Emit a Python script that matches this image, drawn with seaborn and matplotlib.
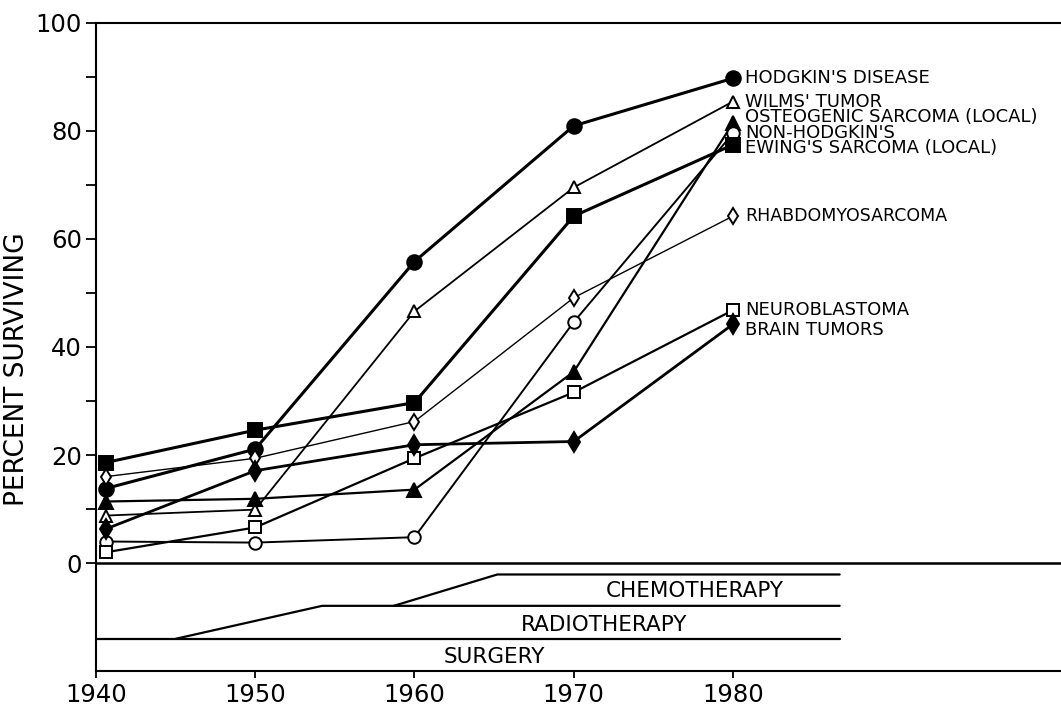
import matplotlib
matplotlib.use("Agg")
import matplotlib.pyplot as plt
import seaborn as sns

# survival curves (percent surviving)
years = [1940.6, 1950, 1960, 1970, 1980]

hodgkin = [13.8, 21.1, 55.8, 80.9, 89.7]
wilms = [8.8, 9.9, 46.6, 69.5, 85.4]
osteogenic = [11.4, 11.9, 13.6, 35.4, 81.4]
non_hodgkin = [4.0, 3.8, 4.8, 44.6, 79.5]
ewing = [18.6, 24.6, 29.7, 64.2, 77.4]
rhabdo = [16.0, 19.4, 26.2, 49.1, 64.2]
neuro = [2.0, 6.6, 19.4, 31.6, 46.8]
brain = [6.3, 17.1, 21.9, 22.5, 44.2]

names = ["HODGKIN'S DISEASE", "WILMS' TUMOR", "OSTEOGENIC SARCOMA (LOCAL)",
         "NON-HODGKIN'S", "EWING'S SARCOMA (LOCAL)", "RHABDOMYOSARCOMA",
         "NEUROBLASTOMA", "BRAIN TUMORS"]
label_y = [89.7, 85.5, 82.8, 79.5, 76.3, 64.2, 46.8, 43.2]

# therapy bands under the zero line
surg_x = [1940, 1986.7]
surg_y = [-14.0, -14.0]
radio_x = [1945.0, 1954.2, 1986.7]
radio_y = [-14.0, -7.9, -7.9]
chemo_x = [1958.7, 1965.2, 1986.7]
chemo_y = [-7.9, -2.1, -2.1]
therapy_names = ["CHEMOTHERAPY", "RADIOTHERAPY", "SURGERY"]
therapy_pos = [(1977.6, -5.2), (1971.9, -11.5), (1965.0, -17.3)]

sns.set_style("ticks")
plt.rcParams['font.family'] = ['DejaVu Sans']
plt.rcParams['text.color'] = 'black'
plt.rcParams['xtick.color'] = 'black'
plt.rcParams['ytick.color'] = 'black'
plt.rcParams['axes.labelcolor'] = 'black'

fig = plt.figure(figsize=(10.61, 7.06), dpi=100)
ax = fig.add_axes([0.0905, 0.05, 0.9095, 0.918])

series = [hodgkin, wilms, osteogenic, non_hodgkin, ewing, rhabdo, neuro, brain]
markers = ["o", "^", "^", "o", "s", "d", "s", "d"]
filled = [True, False, True, False, True, False, False, True]
sizes = [10.5, 9, 9.5, 9, 9.5, 8.5, 9, 10]
widths = [2.2, 1.3, 1.6, 1.4, 2.2, 1.0, 1.6, 2.0]

for vals, mk, fl, ms, lw in zip(series, markers, filled, sizes, widths):
    sns.lineplot(x=years, y=vals, ax=ax, color="black", lw=lw, marker=mk,
                 ms=ms, mfc="black" if fl else "white", mec="black",
                 mew=1.4, errorbar=None, sort=False, zorder=3)

# the four tightly stacked labels go in one block so they do not collide
stack = names[1:5]
stack_y = sum(label_y[1:5]) / 4
ax.text(1980.75, stack_y, "\n".join(stack), ha="left", va="center",
        fontsize=13, linespacing=0.82)
for i in [0, 5, 6, 7]:
    fs = 12.5 if names[i] == "RHABDOMYOSARCOMA" else 13
    ax.text(1980.75, label_y[i], names[i], ha="left", va="center", fontsize=fs)

# therapy lines
for tx, ty in [(surg_x, surg_y), (radio_x, radio_y), (chemo_x, chemo_y)]:
    sns.lineplot(x=tx, y=ty, ax=ax, color="black", lw=1.6, errorbar=None, sort=False)
for name, (px, py) in zip(therapy_names, therapy_pos):
    ax.text(px, py, name, ha="center", va="center", fontsize=15.5)

ax.axhline(0, color="black", lw=1.8, zorder=2)

ax.set_xlim(1940, 2000.6)
ax.set_ylim(-19.9, 100)
ax.set_xticks([1940, 1950, 1960, 1970, 1980])
ax.set_yticks([0, 20, 40, 60, 80, 100])
ax.set_yticks([10, 30, 50, 70, 90], minor=True)
ax.tick_params(axis="y", which="both", length=7, width=1.3, direction="out",
               labelsize=17.5, pad=3)
ax.tick_params(axis="x", length=5, width=1.3, direction="out", labelsize=17.5, pad=4)

for s in ["left", "top", "bottom"]:
    ax.spines[s].set_linewidth(1.5)
    ax.spines[s].set_color("black")
ax.spines["right"].set_visible(False)

ax.set_xlabel("")
ax.set_ylabel("PERCENT SURVIVING", fontsize=19)
ax.yaxis.set_label_coords(-0.068, 0.465)

fig.savefig("out.png", dpi=100)
